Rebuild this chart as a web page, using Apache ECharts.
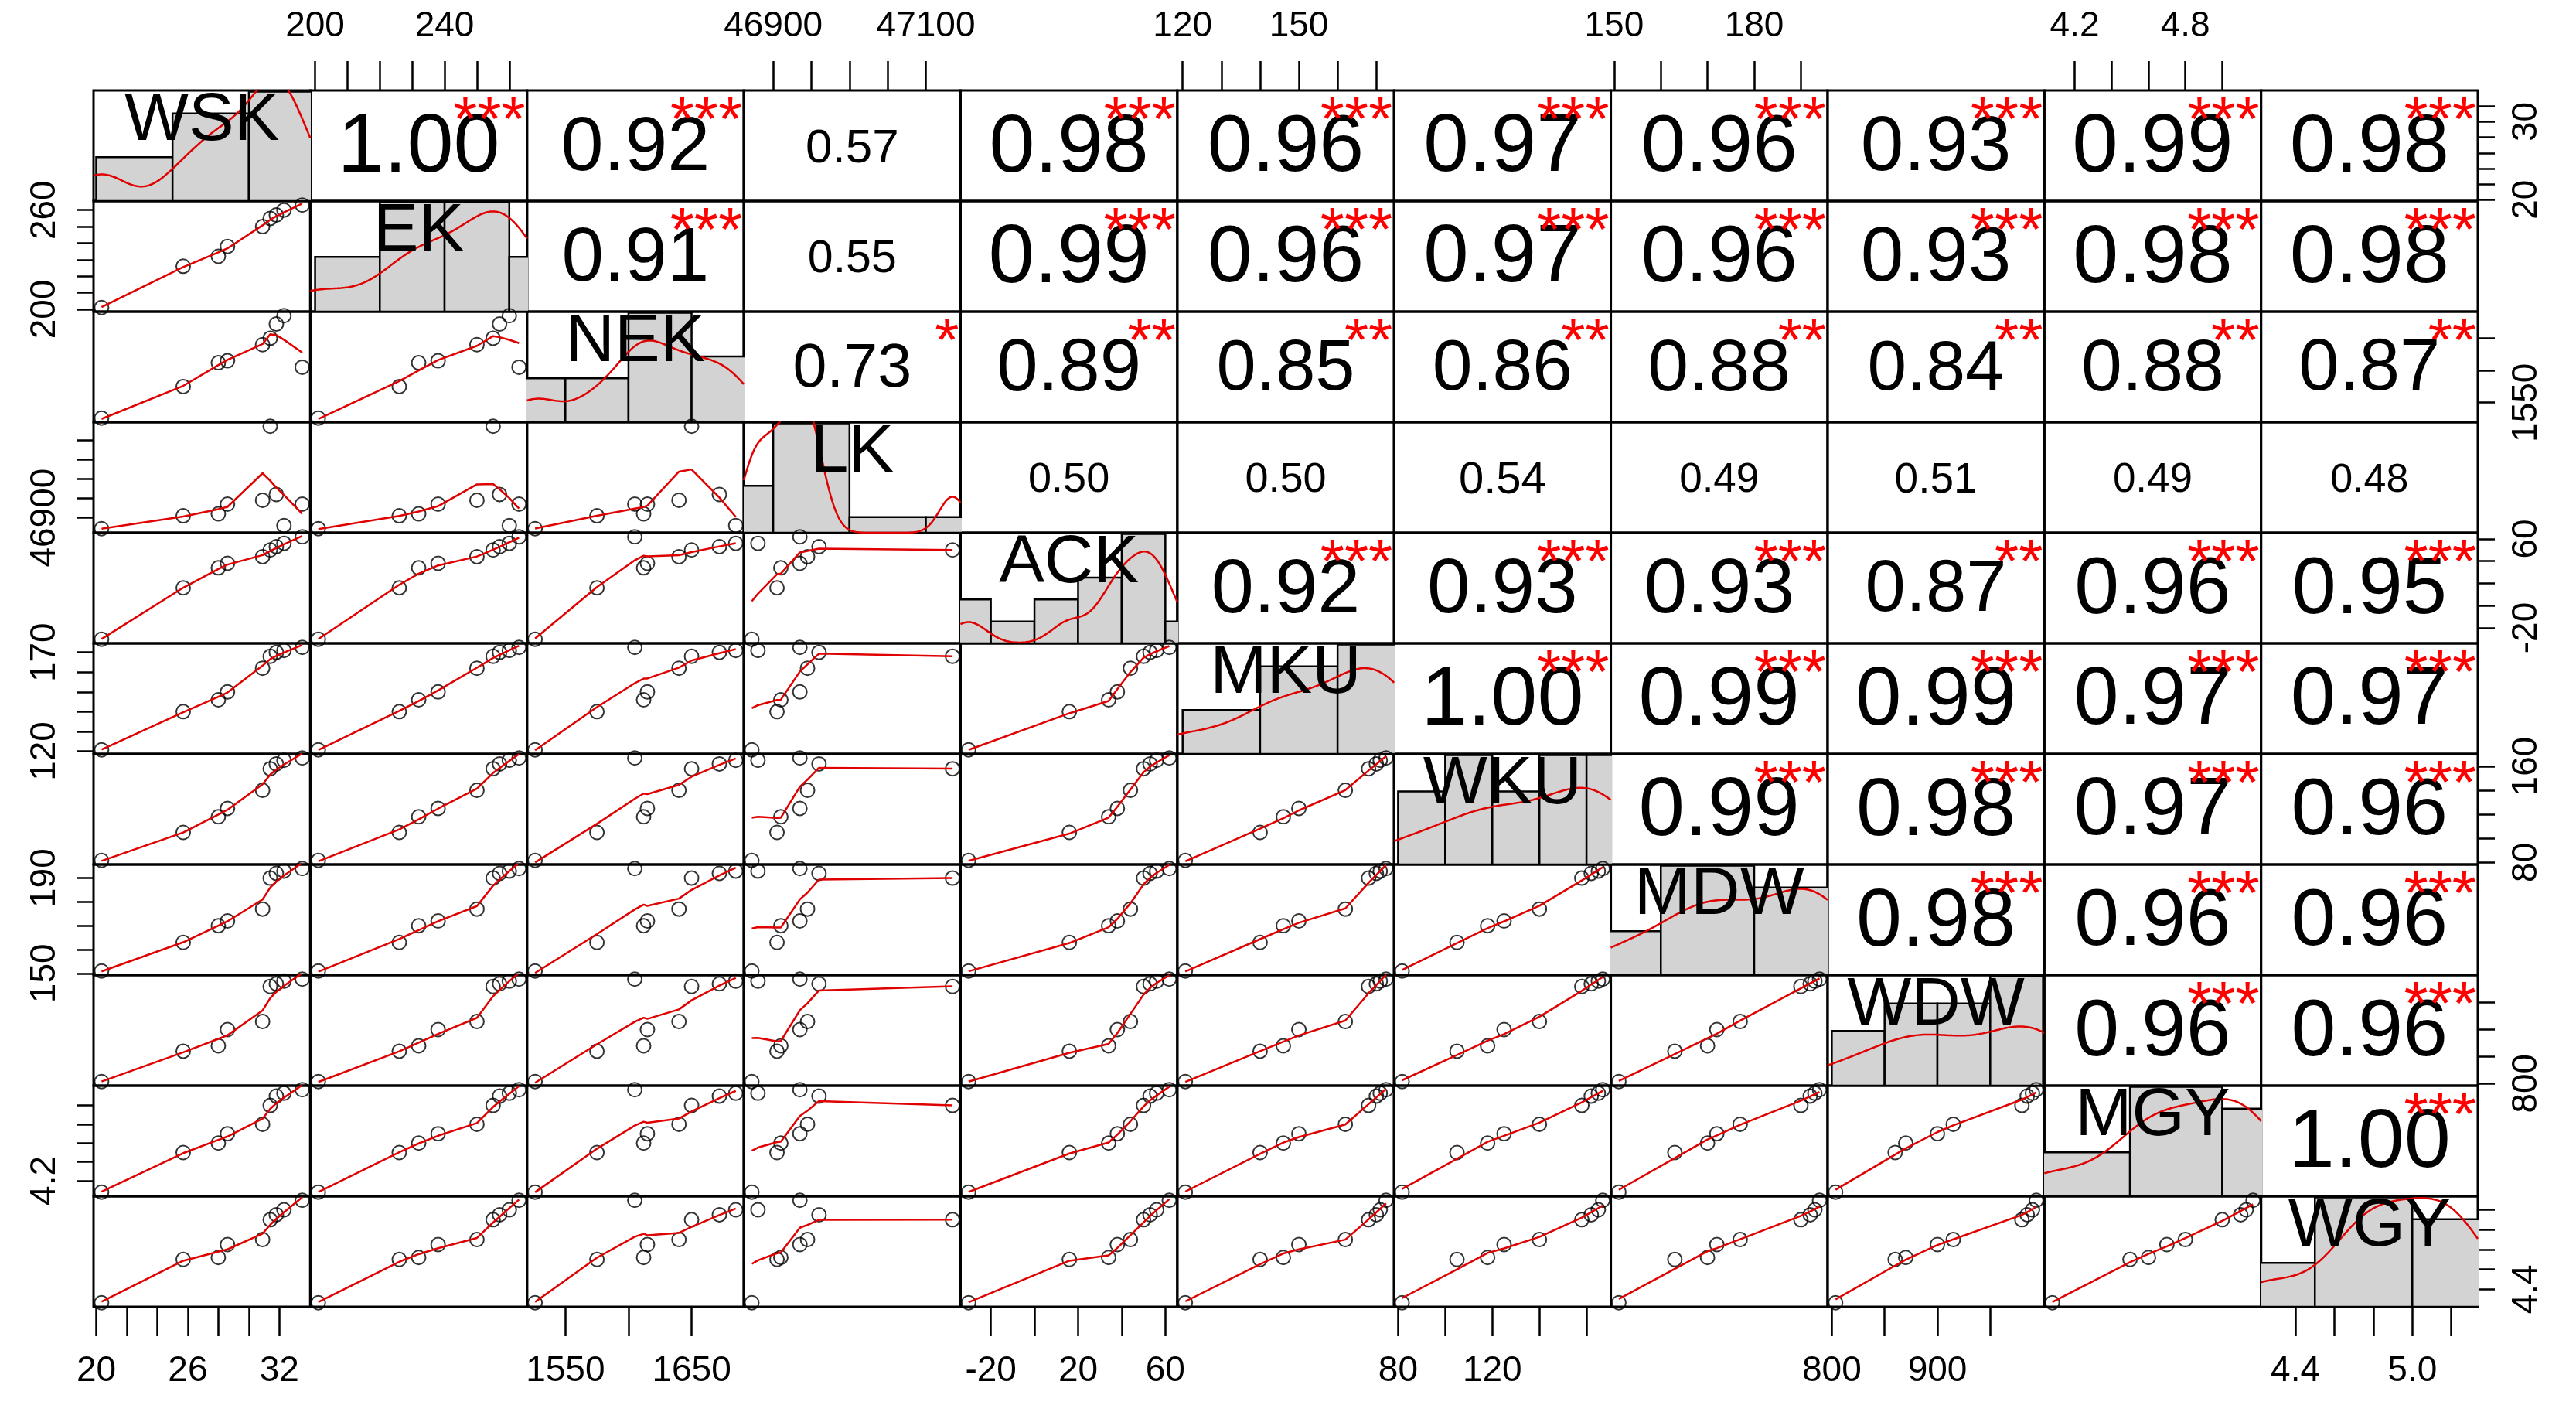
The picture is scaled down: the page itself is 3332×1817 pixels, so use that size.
<!DOCTYPE html>
<html>
<head>
<meta charset="utf-8">
<script src="https://cdn.jsdelivr.net/npm/echarts@6/dist/echarts.min.js"></script>
<style>html,body{margin:0;padding:0;background:#fff}#chart{width:3332px;height:1817px}</style>
</head>
<body>
<div id="chart"></div>
<script>
const names = ['WSK', 'EK', 'NEK', 'LK', 'ACK', 'MKU', 'WKU', 'MDW', 'WDW', 'MGY', 'WGY'];

const WSK = [20.35, 25.7, 28.0, 28.6, 30.9, 31.4, 31.8, 32.3, 33.5];
const EK = [201, 226, 232, 238, 250, 255, 257, 260, 263];
const NEK = [1526, 1575, 1612, 1615, 1640, 1650, 1672, 1685, 1605];
const LK = [46872, 46905, 46910, 46935, 46945, 47135, 46960, 46880, 46935];
const ACK = [-30.2, 16, 34, 38, 44, 50, 53, 56, 61.8];
const MKU = [120.7, 140, 146, 150, 162, 168, 170, 171, 172.5];
const WKU = [81.7, 105, 118, 125, 140, 158, 162, 165, 166.9];
const MDW = [151, 163, 170, 172, 177, 190, 192, 193, 194];
const WDW = [803.6, 860, 870, 900, 915, 980, 985, 990, 993.6];
const MGY = [4.079, 4.5, 4.6, 4.7, 4.8, 5.0, 5.1, 5.13, 5.167];
const WGY = [4.265, 4.7, 4.72, 4.85, 4.9, 5.1, 5.15, 5.2, 5.295];
const cols = [WSK, EK, NEK, LK, ACK, MKU, WKU, MDW, WDW, MGY, WGY];

// correlations printed in the upper panels (row i, columns i+1..10)
const corrValues = [
  [1.00, 0.92, 0.57, 0.98, 0.96, 0.97, 0.96, 0.93, 0.99, 0.98],
  [0.91, 0.55, 0.99, 0.96, 0.97, 0.96, 0.93, 0.98, 0.98],
  [0.73, 0.89, 0.85, 0.86, 0.88, 0.84, 0.88, 0.87],
  [0.50, 0.50, 0.54, 0.49, 0.51, 0.49, 0.48],
  [0.92, 0.93, 0.93, 0.87, 0.96, 0.95],
  [1.00, 0.99, 0.99, 0.97, 0.97],
  [0.99, 0.98, 0.97, 0.96],
  [0.98, 0.96, 0.96],
  [0.96, 0.96],
  [1.00]
];
const corrStars = [
  ['***', '***', '', '***', '***', '***', '***', '***', '***', '***'],
  ['***', '', '***', '***', '***', '***', '***', '***', '***'],
  ['*', '**', '**', '**', '**', '**', '**', '**'],
  ['', '', '', '', '', '', ''],
  ['***', '***', '***', '**', '***', '***'],
  ['***', '***', '***', '***', '***'],
  ['***', '***', '***', '***'],
  ['***', '***', '***'],
  ['***', '***'],
  ['***']
];

// tick marks and labelled ticks per variable
const ticks = [
  [20, 22, 24, 26, 28, 30, 32], [200, 210, 220, 230, 240, 250, 260], [1550, 1600, 1650],
  [46900, 46950, 47000, 47050, 47100], [-20, 0, 20, 40, 60], [120, 130, 140, 150, 160, 170],
  [80, 100, 120, 140, 160], [150, 160, 170, 180, 190], [800, 850, 900, 950],
  [4.2, 4.4, 4.6, 4.8, 5.0], [4.4, 4.6, 4.8, 5.0, 5.2]
];
const xLabels = [[20, 26, 32], [200, 240], [1550, 1650], [46900, 47100], [-20, 20, 60], [120, 150],
  [80, 120], [150, 180], [800, 900], [4.2, 4.8], [4.4, 5.0]];
const yLabels = [[20, 30], [200, 260], [1550], [46900], [-20, 60], [120, 170],
  [80, 160], [150, 190], [800], [4.2], [4.4]];
const labelDigits = [0, 0, 0, 0, 0, 0, 0, 0, 0, 1, 1];

const N = names.length;
const L = 121, T = 117, W = (3205 - 121) / N, H = (1690 - 117) / N;
const FONT = 'Liberation Sans, Arial, sans-serif';

const ranges = cols.map(v => {
  const lo = Math.min(...v), hi = Math.max(...v), p = (hi - lo) * 0.04;
  return [lo - p, hi + p];
});

function lowess(xs, ys, f) {
  const idx = xs.map((_, i) => i).sort((a, b) => xs[a] - xs[b]);
  const x = idx.map(i => xs[i]), y = idx.map(i => ys[i]);
  const n = x.length, k = Math.max(2, Math.ceil(f * n));
  return x.map(x0 => {
    const d = x.map(v => Math.abs(v - x0)).sort((a, b) => a - b);
    const h = Math.max(d[k - 1], 1e-9) * 1.0001;
    const w = x.map(v => { const u = Math.abs(v - x0) / h; return u < 1 ? Math.pow(1 - u * u * u, 3) : 0; });
    let sw = 0, sx = 0, sy = 0;
    w.forEach((wi, i) => { sw += wi; sx += wi * x[i]; sy += wi * y[i]; });
    const mx = sx / sw, my = sy / sw;
    let sxx = 0, sxy = 0;
    w.forEach((wi, i) => { sxx += wi * (x[i] - mx) ** 2; sxy += wi * (x[i] - mx) * (y[i] - my); });
    const b = sxx > 1e-12 ? sxy / sxx : 0;
    return [x0, my + b * (x0 - mx)];
  });
}

function niceStep(raw) {
  const p = Math.pow(10, Math.floor(Math.log10(raw)));
  let best = p, bd = Infinity;
  [1, 2, 5, 10].forEach(c => { const d = Math.abs(Math.log(c * p / raw)); if (d < bd) { bd = d; best = c * p; } });
  return best;
}

function histogram(v) {
  const lo = Math.min(...v), hi = Math.max(...v);
  const step = niceStep((hi - lo) / 3);
  const start = Math.floor(lo / step) * step;
  const bins = [];
  for (let b = start; b < hi; b += step) {
    const c = v.filter(x => x >= b && (x < b + step || (x === hi))).length;
    bins.push([b, b + step, c / (v.length * step)]);
  }
  return bins;
}

function kde(v, lo, hi) {
  const n = v.length, m = v.reduce((a, b) => a + b) / n;
  const sd = Math.sqrt(v.reduce((a, b) => a + (b - m) ** 2, 0) / (n - 1));
  const s = [...v].sort((a, b) => a - b);
  const q = p => { const h = (n - 1) * p, i = Math.floor(h); return s[i] + (h - i) * ((s[i + 1] ?? s[i]) - s[i]); };
  const iqr = q(0.75) - q(0.25);
  const bw = 0.9 * Math.min(sd, iqr > 0 ? iqr / 1.34 : sd) * Math.pow(n, -0.2);
  const out = [];
  for (let k = 0; k <= 120; k++) {
    const x = lo + (hi - lo) * k / 120;
    let d = 0;
    v.forEach(xi => { const u = (x - xi) / bw; d += Math.exp(-0.5 * u * u); });
    out.push([x, d / (n * bw * Math.sqrt(2 * Math.PI))]);
  }
  return out;
}

const grid = [], xAxis = [], yAxis = [], series = [], graphic = [];
const labelStyle = { color: '#000', fontSize: 46, fontFamily: FONT };

for (let i = 0; i < N; i++) {
  for (let j = 0; j < N; j++) {
    const g = i * N + j;
    const left = L + j * W, top = T + i * H;
    grid.push({ left, top, width: W, height: H, show: true, borderColor: '#000', borderWidth: 3, backgroundColor: 'transparent' });
    const showX = (j % 2 === 1 && i === 0) || (j % 2 === 0 && i === N - 1);
    const showY = (i % 2 === 1 && j === 0) || (i % 2 === 0 && j === N - 1);
    xAxis.push({
      type: 'value', gridIndex: g, min: ranges[j][0], max: ranges[j][1],
      position: j % 2 === 1 ? 'top' : 'bottom',
      axisLine: { show: false }, splitLine: { show: false },
      axisTick: { show: showX, length: 38, customValues: ticks[j], lineStyle: { color: '#000', width: 2.5 } },
      axisLabel: { show: showX, customValues: xLabels[j], margin: 60, formatter: v => v.toFixed(labelDigits[j]), ...labelStyle }
    });
    yAxis.push({
      type: 'value', gridIndex: g, min: ranges[i][0], max: ranges[i][1],
      position: i % 2 === 1 ? 'left' : 'right',
      axisLine: { show: false }, splitLine: { show: false },
      axisTick: { show: showY, length: 22, customValues: ticks[i], lineStyle: { color: '#000', width: 2.5 } },
      axisLabel: { show: showY, customValues: yLabels[i], margin: 40, rotate: 90, formatter: v => v.toFixed(labelDigits[i]), ...labelStyle }
    });

    if (i > j) {
      const pts = cols[j].map((x, k) => [x, cols[i][k]]);
      series.push({
        type: 'scatter', xAxisIndex: g, yAxisIndex: g, data: pts, symbol: 'circle', symbolSize: 18,
        itemStyle: { color: 'rgba(0,0,0,0)', borderColor: '#000', borderWidth: 2 }, silent: true
      });
      series.push({
        type: 'line', xAxisIndex: g, yAxisIndex: g, data: lowess(cols[j], cols[i], 2 / 3),
        showSymbol: false, lineStyle: { color: '#e00000', width: 2.5 }, silent: true
      });
    } else if (i === j) {
      const [lo, hi] = ranges[i];
      const bins = histogram(cols[i]);
      const dens = kde(cols[i], lo, hi);
      const maxD = Math.max(...bins.map(b => b[2]));
      const toY = d => lo + d / maxD * (hi - lo) * 0.99;
      series.push({
        type: 'custom', xAxisIndex: g, yAxisIndex: g, clip: true, silent: true,
        data: bins.map(b => [b[0], b[1], toY(b[2])]),
        renderItem: (params, api) => {
          const p0 = api.coord([api.value(0), lo]);
          const p1 = api.coord([api.value(1), api.value(2)]);
          return {
            type: 'rect', shape: { x: p0[0], y: p1[1], width: p1[0] - p0[0], height: p0[1] - p1[1] },
            style: { fill: '#d3d3d3', stroke: '#000', lineWidth: 2.5 }
          };
        }
      });
      series.push({
        type: 'line', xAxisIndex: g, yAxisIndex: g, data: dens.map(d => [d[0], toY(d[1])]),
        showSymbol: false, smooth: false, lineStyle: { color: '#e00000', width: 2.5 }, silent: true, z: 3
      });
      graphic.push({
        type: 'text', x: left + W / 2, y: top - 4, z: 10,
        style: { text: names[i], fill: '#000', font: '88px ' + FONT, textAlign: 'center', textVerticalAlign: 'top' }
      });
    } else {
      const r = corrValues[i][j - i - 1], st = corrStars[i][j - i - 1];
      graphic.push({
        type: 'text', x: left + W / 2, y: top + H / 2 + 4, z: 10,
        style: { text: r.toFixed(2), fill: '#000', font: Math.round(108 * Math.abs(r)) + 'px ' + FONT, textAlign: 'center', textVerticalAlign: 'middle' }
      });
      if (st) {
        graphic.push({
          type: 'text', x: left + W - 2, y: top + 2, z: 11,
          style: { text: st, fill: '#ff0000', font: '80px ' + FONT, textAlign: 'right', textVerticalAlign: 'top' }
        });
      }
    }
  }
}

const chart = echarts.init(document.getElementById('chart'));
chart.setOption({ animation: false, grid, xAxis, yAxis, series, graphic });
</script>
</body>
</html>
